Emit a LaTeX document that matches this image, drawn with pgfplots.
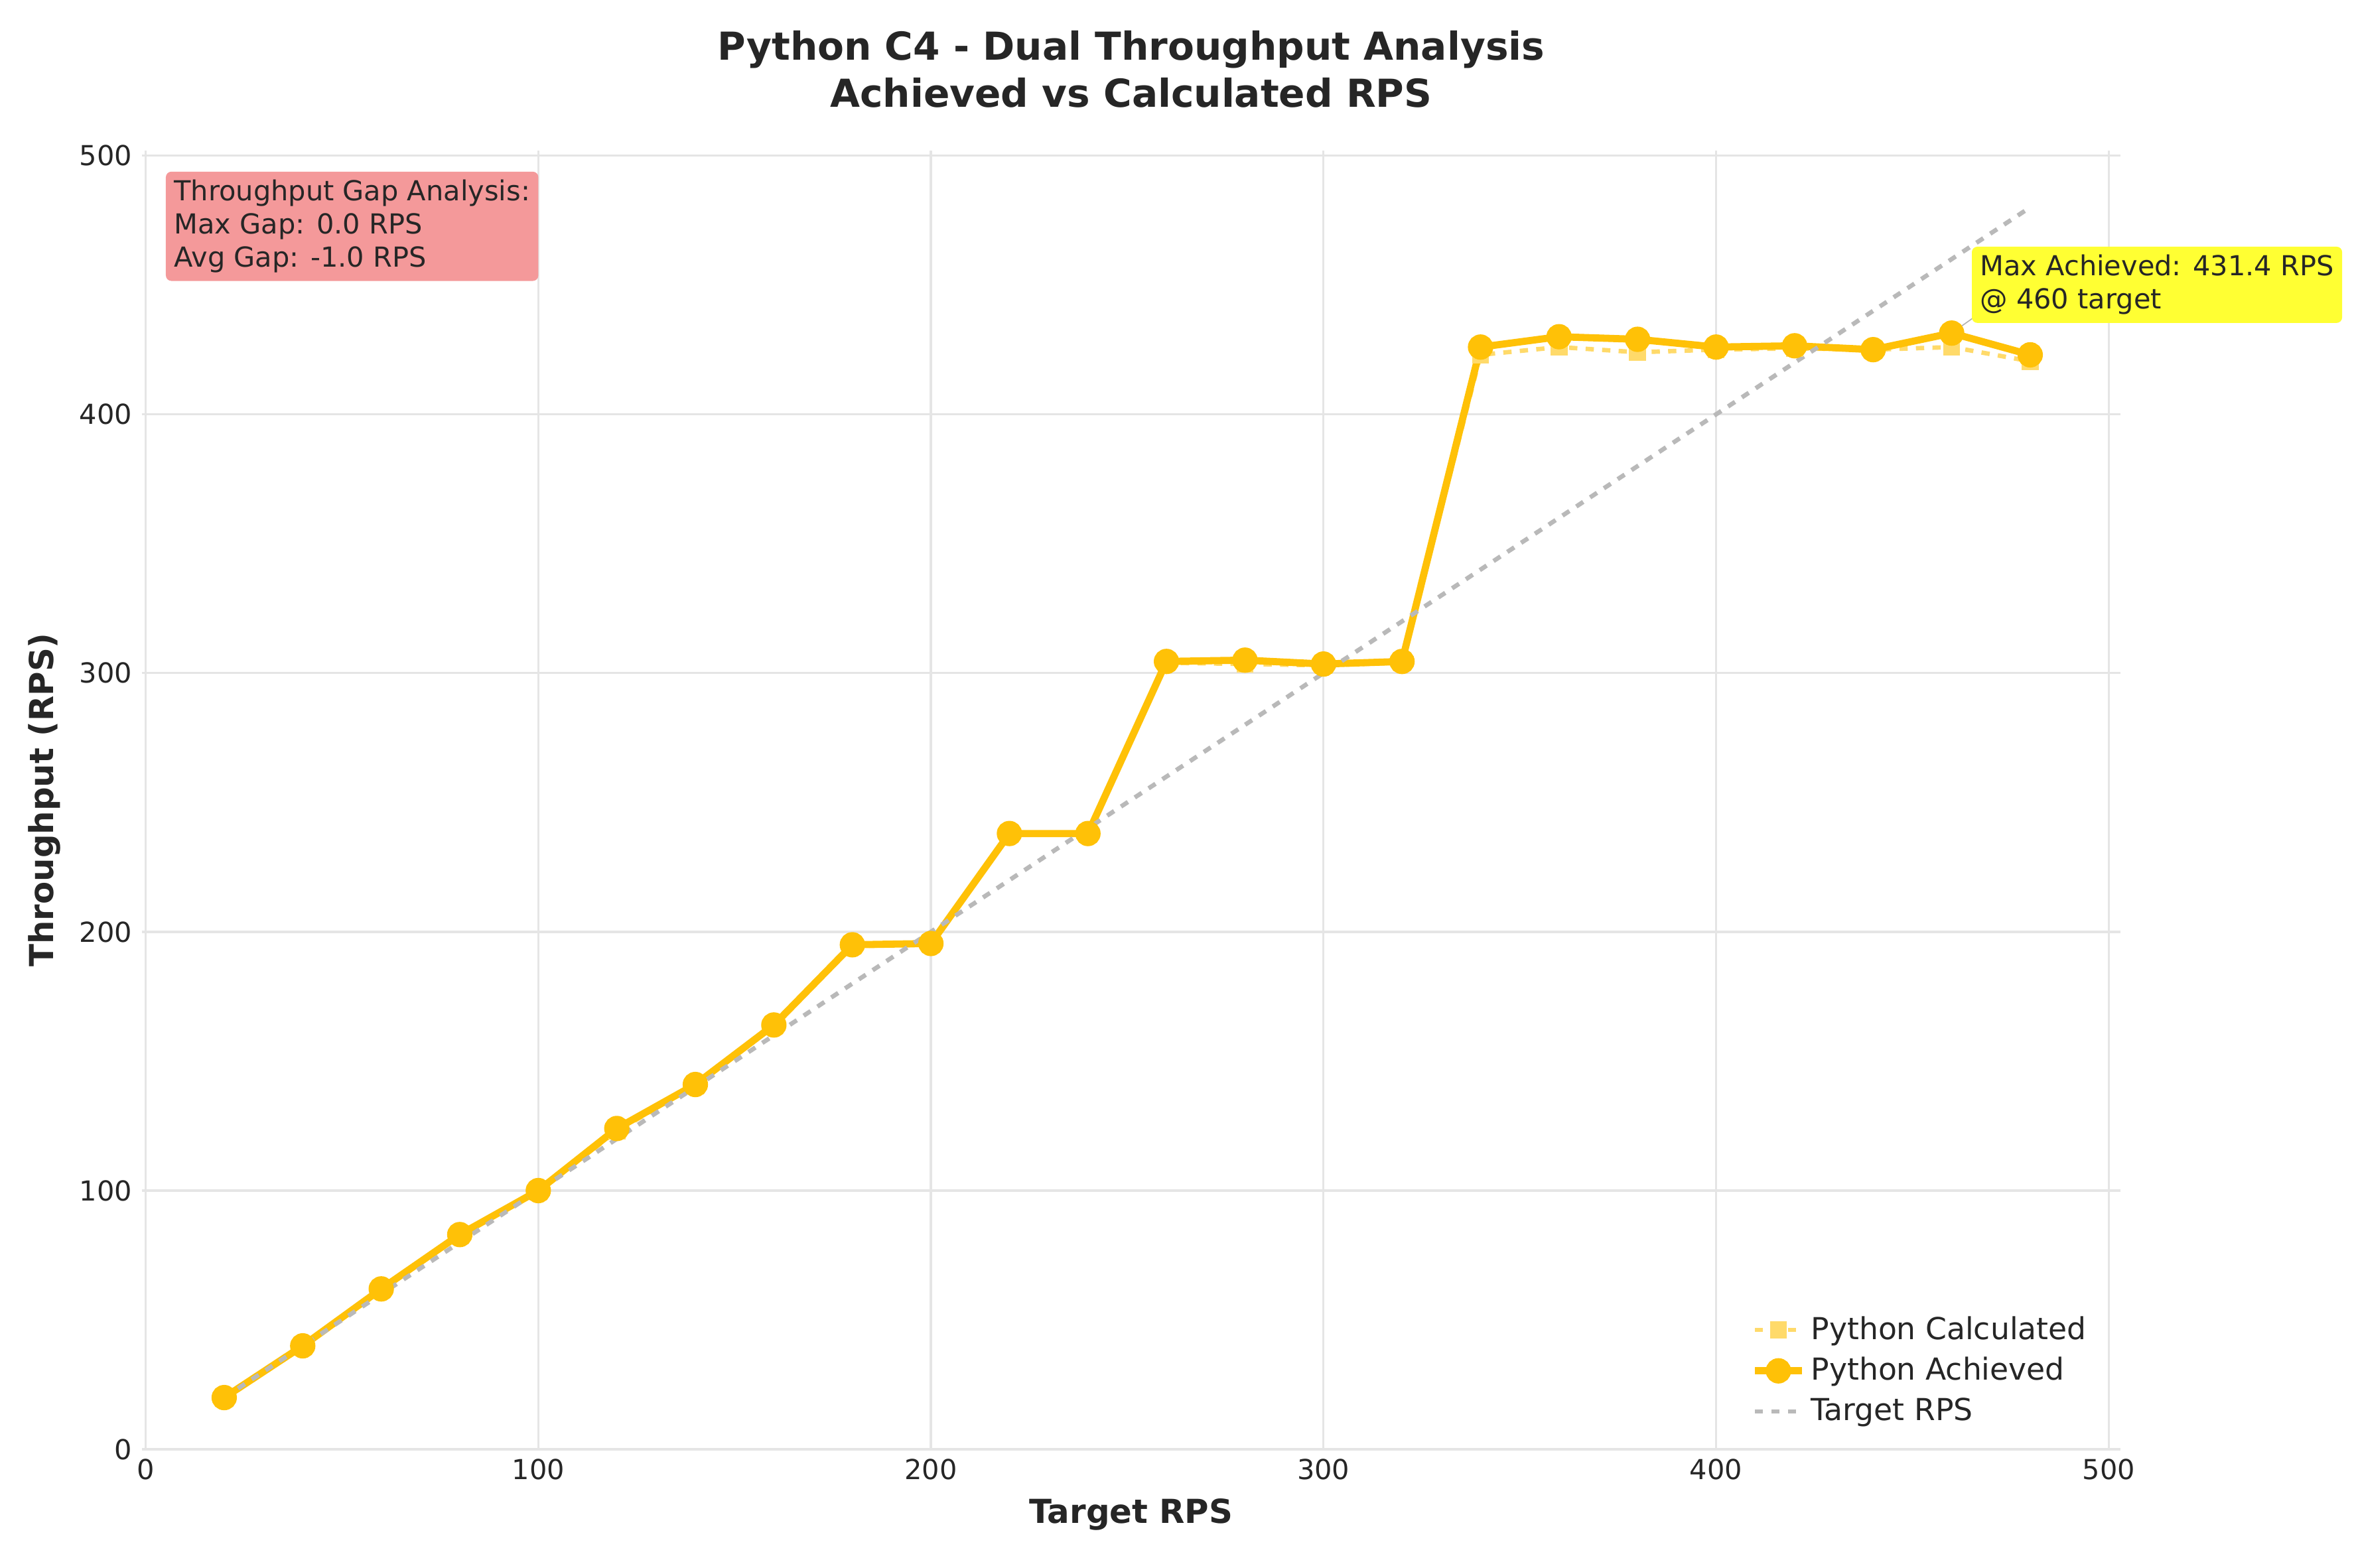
\documentclass[border=0pt]{standalone}
\usepackage{pgfplots}
\pgfplotsset{compat=1.18}
\usepackage{fontspec}
\setmainfont{DejaVu Sans}
\definecolor{gold}{HTML}{FFC107}
\definecolor{boxred}{HTML}{F4999A}
\definecolor{yel}{HTML}{FFFF33}
\definecolor{txt}{HTML}{262626}
\begin{document}
\begin{tikzpicture}
\useasboundingbox (-1.809,-1.514) rectangle (28.23,18.50);
\begin{axis}[scale only axis, width=25.25cm, height=16.58cm, clip=false,
 xmin=-1, xmax=503, ymin=0, ymax=502,
 axis line style={draw=none}, tick style={draw=none},
 xtick={0,100,...,500}, ytick={0,100,...,500},
 grid=major, grid style={gray!20, line width=0.8pt},
 tick label style={font=\fontsize{10}{12}\selectfont, text=txt},
 /pgf/number format/assume math mode=true,
 xlabel={\bfseries Target RPS}, ylabel={\bfseries Throughput (RPS)},
 label style={font=\fontsize{12}{14}\selectfont, text=txt},
 title style={font=\fontsize{14}{17}\selectfont\bfseries, align=center, yshift=6pt, text=txt},
 title={Python C4 - Dual Throughput Analysis\\Achieved vs Calculated RPS},
 legend cell align=left,
 legend style={draw=none, fill=none, font=\fontsize{11}{16}\selectfont, text=txt, anchor=south east, at={(0.99,0.01)}, row sep=1pt},
]
\addplot[gold!60, dashed, line width=1.6pt, mark=square*, mark size=2.3pt, mark options={solid}] coordinates {
(20,20)(40,40)(60,61.5)(80,82.5)(100,99.5)(120,123)(140,140.5)(160,163.5)(180,194.5)(200,195)(220,237.5)(240,237.5)(260,304)(280,303.5)(300,303)(320,304)(340,423)(360,426)(380,424)(400,425)(420,425.5)(440,425)(460,426)(480,420.5)};
\addlegendentry{Python Calculated}
\addplot[gold, line width=2.6pt, mark=*, mark size=3.3pt] coordinates {
(20,20)(40,40)(60,62)(80,83)(100,100)(120,124)(140,141)(160,164)(180,195)(200,195.5)(220,238)(240,238)(260,304.5)(280,305)(300,303.5)(320,304.5)(340,426)(360,430)(380,429)(400,426)(420,426.5)(440,425)(460,431.4)(480,423)};
\addlegendentry{Python Achieved}
\addplot[gray!55, dashed, line width=1.6pt] coordinates {(20,20)(480,480)};
\addlegendentry{Target RPS}
\draw[gray!60, thin] (axis cs:460,431.4) -- (axis cs:468,440);
\node[anchor=north west, fill=boxred, rounded corners=2pt, align=left, inner sep=3pt, text=txt, font=\fontsize{10}{12}\selectfont] at (axis cs:5,494) {Throughput Gap Analysis:\\Max Gap: 0.0 RPS\\Avg Gap: -1.0 RPS};
\node[anchor=north west, fill=yel, rounded corners=2pt, align=left, inner sep=3pt, text=txt, font=\fontsize{10}{12}\selectfont] at (axis cs:465,465) {Max Achieved: 431.4 RPS\\@ 460 target};
\end{axis}
\end{tikzpicture}
\end{document}
